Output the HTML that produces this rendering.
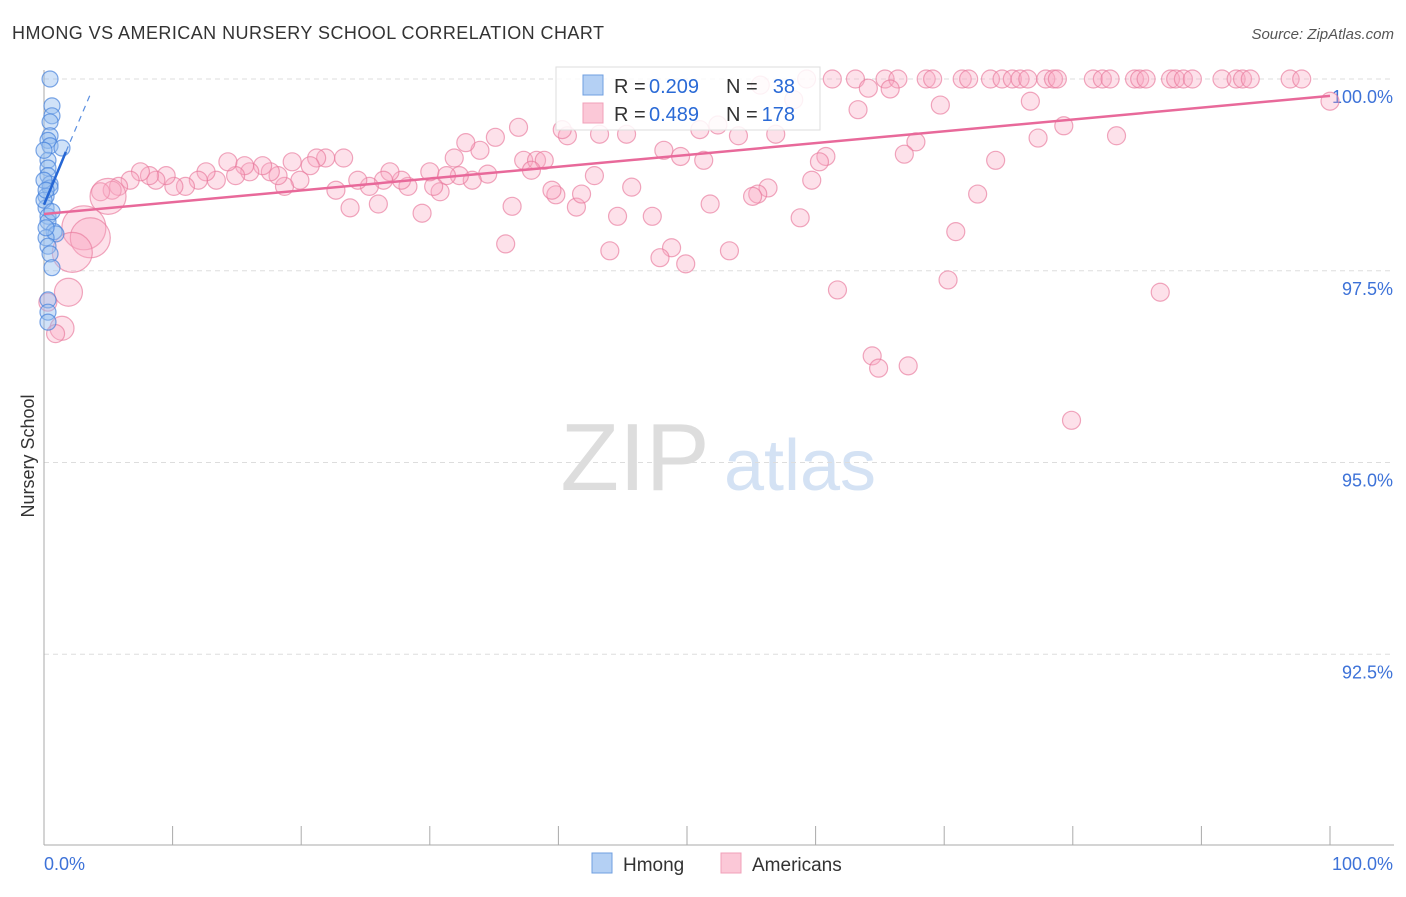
<!DOCTYPE html>
<html><head><meta charset="utf-8"><style>
body{margin:0;background:#fff;font-family:"Liberation Sans",sans-serif}
svg text{font-family:"Liberation Sans",sans-serif}
</style></head><body>
<svg id="chart" width="1406" height="892" xmlns="http://www.w3.org/2000/svg">
<text x="12" y="39" font-size="18" fill="#333" textLength="592">HMONG VS AMERICAN NURSERY SCHOOL CORRELATION CHART</text>
<text x="1394" y="39" font-size="15" fill="#555" text-anchor="end" font-style="italic">Source: ZipAtlas.com</text>
<g>
<text x="635" y="490" font-size="96" fill="#ddd" text-anchor="middle" font-family="Liberation Serif,serif">ZIP</text>
<text x="800" y="490" font-size="72" fill="#d4e2f4" text-anchor="middle">atlas</text>
</g>
<g id="grid"></g><g id="axes"></g><g id="pts"></g><g id="lines"></g>
<text x="34" y="456" font-size="18" fill="#333" text-anchor="middle" transform="rotate(-90 34 456)">Nursery School</text>
<g>
<rect x="556" y="67" width="264" height="63" fill="#fff" fill-opacity="0.85" stroke="#ddd"/>
<rect x="583" y="75" width="20" height="20" fill="#b4d0f4" stroke="#6f9fe0"/>
<text x="614" y="93" font-size="20" fill="#333">R =</text>
<text x="649" y="93" font-size="20" fill="#2a6ad6">0.209</text>
<text x="726" y="93" font-size="20" fill="#333">N =</text>
<text x="795" y="93" font-size="20" fill="#2a6ad6" text-anchor="end">38</text>
<rect x="583" y="103" width="20" height="20" fill="#fbc8d7" stroke="#f0a0b8"/>
<text x="614" y="121" font-size="20" fill="#333">R =</text>
<text x="649" y="121" font-size="20" fill="#2a6ad6">0.489</text>
<text x="726" y="121" font-size="20" fill="#333">N =</text>
<text x="795" y="121" font-size="20" fill="#2a6ad6" text-anchor="end">178</text>
</g>
<g>
<rect x="592" y="853" width="20" height="20" fill="#b4d0f4" stroke="#6f9fe0"/>
<text x="623" y="871" font-size="19" fill="#333">Hmong</text>
<rect x="721" y="853" width="20" height="20" fill="#fbc8d7" stroke="#f0a0b8"/>
<text x="752" y="871" font-size="19" fill="#333">Americans</text>
</g>
</svg>
<script>
const yTicks=[100,97.5,95,92.5];
const yTickLabels=["100.0%","97.5%","95.0%","92.5%"];
const xTickLabels=["0.0%","100.0%"];
const pinkX=[59.3,61.3,63.1,65.4,66.4,68.6,69.1,71.4,71.9,73.6,74.5,75.3,75.9,76.5,77.9,78.5,78.8,81.6,82.3,82.9,84.8,85.2,85.7,87.6,88.0,88.6,89.3,91.6,92.7,93.2,93.8,96.9,97.8,
100,76.7,69.7,63.3,64.1,65.8,58.3,55.7,52.4,54.0,56.9,79.3,83.4,77.3,67.8,66.9,74.0,60.8,60.3,59.7,56.3,55.5,55.1,51.8,58.8,72.6,70.9,70.3,61.7,86.8,64.4,64.9,67.2,79.9,
53.3,49.9,48.8,47.9,44.0,35.9,47.3,44.6,45.7,42.8,41.4,41.8,39.8,39.5,36.4,29.4,26.0,23.8,48.2,49.5,51.3,51.0,43.2,45.3,40.7,40.3,36.9,35.1,33.9,32.8,31.9,37.3,38.3,38.9,37.9,34.5,33.3,32.3,31.3,30.8,30.3,30.0,28.3,27.8,26.9,26.4,25.3,24.4,22.7,23.3,21.9,21.2,20.7,19.9,19.3,18.7,18.2,17.6,17.0,16.0,15.6,14.9,14.3,13.4,12.6,12.0,11.0,10.1,9.5,8.7,8.2,7.5,6.7,5.8,5.3,4.4,
4.98,3.1,3.6,2.2,1.9,1.4,0.9,0.3];
const pinkY=[100,100,100,100,100,100,100,100,100,100,100,100,100,100,100,100,100,100,100,100,100,100,100,100,100,100,100,100,100,100,100,100,100,
99.71,99.71,99.66,99.60,99.88,99.87,99.73,99.92,99.40,99.26,99.28,99.39,99.26,99.23,99.18,99.02,98.94,98.99,98.92,98.68,98.58,98.50,98.47,98.37,98.19,98.50,98.01,97.38,97.25,97.22,96.39,96.23,96.26,95.55,
97.76,97.59,97.80,97.67,97.76,97.85,98.21,98.21,98.59,98.74,98.33,98.50,98.49,98.55,98.34,98.25,98.37,98.32,99.07,98.99,98.94,99.34,99.28,99.28,99.26,99.34,99.37,99.24,99.07,99.17,98.97,98.94,98.94,98.94,98.81,98.76,98.68,98.74,98.74,98.53,98.60,98.79,98.60,98.68,98.79,98.68,98.60,98.68,98.55,98.97,98.97,98.97,98.87,98.68,98.92,98.60,98.74,98.79,98.87,98.79,98.87,98.74,98.92,98.68,98.79,98.68,98.60,98.60,98.74,98.68,98.74,98.79,98.68,98.60,98.55,98.53,
98.47,98.06,97.93,97.74,97.22,96.75,96.68,97.09];
const pinkSize=[];for(let i=0;i<pinkX.length;i++)pinkSize.push(9);
const bigSizes=[18,22,20,20,14,12,9,9];
const blueX=[0.47,0.62,0.62,0.47,0.47,0.31,0.47,1.4,0.31,0.31,0.31,0.47,0.47,0.16,0.16,0.31,0.31,0.78,0.93,0.16,0.31,0.47,0.62,0.31,0.31,0.31,0,0,0.16,0.62,0.16,0];
const blueY=[100,99.65,99.52,99.44,99.26,99.20,99.13,99.10,98.94,98.84,98.74,98.63,98.58,98.47,98.32,98.21,98.14,98.01,97.98,97.93,97.82,97.72,97.54,97.12,96.96,96.83,98.68,98.42,98.06,98.27,98.55,99.07];
const pinkTrend=[98.24,99.78];
const blueTrend=[98.36,99.05,99.8];
const blueTrendX=[0,1.7,3.6];
const X0=44,X1=1330,YT=79,PPU=76.7;
const sx=v=>X0+(X1-X0)*v/100, sy=v=>YT+(100-v)*PPU;
const NS="http://www.w3.org/2000/svg";
function mk(tag,attrs,parent){const e=document.createElementNS(NS,tag);for(const k in attrs)e.setAttribute(k,attrs[k]);document.getElementById(parent).appendChild(e);return e;}
yTicks.forEach((t,i)=>{
 const g=mk('line',{x1:44,x2:1394,y1:sy(t),y2:sy(t),stroke:'#ddd','stroke-dasharray':'5,4'},'grid');
 
 
 const l=mk('text',{x:1393,y:sy(t)+24,'font-size':18,fill:'#3d72d8','text-anchor':'end'},'axes');l.textContent=yTickLabels[i];
 
 
});
let a=mk('line',{x1:44,x2:44,y1:70,y2:845,stroke:'#aaa'},'axes');


a=mk('line',{x1:44,x2:1394,y1:845,y2:845,stroke:'#aaa'},'axes');


for(let i=0;i<=10;i++){const t=mk('line',{x1:sx(i*10),x2:sx(i*10),y1:826,y2:845,stroke:'#aaa'},'axes');
 
 }
let xl=mk('text',{x:44,y:870,'font-size':18,fill:'#3d72d8'},'axes');xl.textContent=xTickLabels[0];


xl=mk('text',{x:1393,y:870,'font-size':18,fill:'#3d72d8','text-anchor':'end'},'axes');xl.textContent=xTickLabels[1];


const nBig=bigSizes.length;
pinkX.forEach((x,i)=>{const r=i>=pinkX.length-nBig?bigSizes[i-(pinkX.length-nBig)]:pinkSize[i];
 const c=mk('circle',{cx:sx(x),cy:sy(pinkY[i]),r:r,fill:'rgba(248,170,195,0.35)',stroke:'rgba(232,120,155,0.65)','stroke-width':1.2},'pts');
 
 });
blueX.forEach((x,i)=>{const c=mk('circle',{cx:sx(x),cy:sy(blueY[i]),r:8,fill:'rgba(150,190,240,0.45)',stroke:'rgba(70,130,220,0.7)','stroke-width':1.2},'pts');
 
 });
let ln=mk('line',{x1:sx(0),y1:sy(pinkTrend[0]),x2:sx(100),y2:sy(pinkTrend[1]),stroke:'#e8699a','stroke-width':2.5},'lines');


ln=mk('line',{x1:sx(blueTrendX[0]),y1:sy(blueTrend[0]),x2:sx(blueTrendX[1]),y2:sy(blueTrend[1]),stroke:'#2566d4','stroke-width':2.5},'lines');


ln=mk('line',{x1:sx(blueTrendX[1]),y1:sy(blueTrend[1]),x2:sx(blueTrendX[2]),y2:sy(blueTrend[2]),stroke:'#5b8fe0','stroke-width':1.2,'stroke-dasharray':'6,5'},'lines');


</script>
</body></html>
